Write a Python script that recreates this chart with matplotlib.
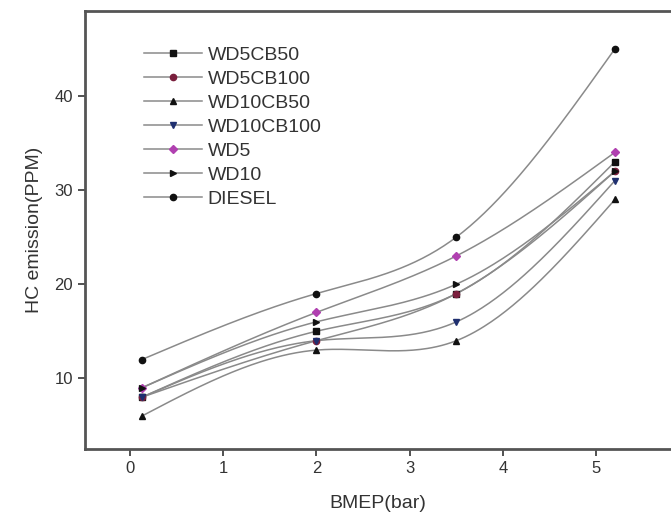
import numpy as np
import matplotlib
matplotlib.use("Agg")
import matplotlib.pyplot as plt

plt.rcParams['font.family'] = ['Liberation Sans', 'DejaVu Sans']

# BMEP load points (bar)
bmep = [0.13, 2.0, 3.5, 5.2]

# HC emission (PPM) per fuel blend
series_names = ['WD5CB50', 'WD5CB100', 'WD10CB50', 'WD10CB100', 'WD5', 'WD10', 'DIESEL']
wd5cb50 = [8, 15, 19, 33]
wd5cb100 = [8, 14, 19, 32]
wd10cb50 = [6, 13, 14, 29]
wd10cb100 = [8, 14, 16, 31]
wd5 = [9, 17, 23, 34]
wd10 = [9, 16, 20, 32]
diesel = [12, 19, 25, 45]
series_values = [wd5cb50, wd5cb100, wd10cb50, wd10cb100, wd5, wd10, diesel]

markers = ['s', 'o', '^', 'v', 'D', '>', 'o']
mcolors = ['#111111', '#7a1f3d', '#111111', '#1f2f6f', '#b040b0', '#111111', '#111111']


def natural_spline(x, y, n=200):
    # plain natural cubic spline, like the "spline" connector in Origin
    x = np.asarray(x, float)
    y = np.asarray(y, float)
    k = len(x)
    h = np.diff(x)
    A = np.zeros((k, k))
    b = np.zeros(k)
    A[0, 0] = A[-1, -1] = 1
    for i in range(1, k - 1):
        A[i, i - 1] = h[i - 1]
        A[i, i] = 2 * (h[i - 1] + h[i])
        A[i, i + 1] = h[i]
        b[i] = 6 * ((y[i + 1] - y[i]) / h[i] - (y[i] - y[i - 1]) / h[i - 1])
    M = np.linalg.solve(A, b)
    xs = np.linspace(x[0], x[-1], n)
    idx = np.clip(np.searchsorted(x, xs) - 1, 0, k - 2)
    x0, x1 = x[idx], x[idx + 1]
    hh = x1 - x0
    ys = (M[idx] * (x1 - xs) ** 3 / (6 * hh) + M[idx + 1] * (xs - x0) ** 3 / (6 * hh)
          + (y[idx] / hh - M[idx] * hh / 6) * (x1 - xs)
          + (y[idx + 1] / hh - M[idx + 1] * hh / 6) * (xs - x0))
    return xs, ys


fig = plt.figure(figsize=(6.71, 5.25), dpi=100)
ax = fig.add_axes([85 / 671, 76 / 525, 586 / 671, 438 / 525])

for name, vals, m, c in zip(series_names, series_values, markers, mcolors):
    xs, ys = natural_spline(bmep, vals)
    ax.plot(xs, ys, color='#8a8a8a', lw=1.1, zorder=2)
    ax.plot(bmep, vals, ls='none', marker=m, ms=4.5, color=c, zorder=3)
    # legend proxy
    ax.plot([], [], color='#8a8a8a', lw=1.1, marker=m, ms=4.5,
            mfc=c, mec=c, label=name)

ax.set_xlim(-0.48, 5.8)
ax.set_ylim(2.5, 49)
ax.set_xticks([0, 1, 2, 3, 4, 5])
ax.set_yticks([10, 20, 30, 40])

for s in ['left', 'bottom', 'top']:
    ax.spines[s].set_color('#555555')
    ax.spines[s].set_linewidth(2)
ax.spines['right'].set_visible(False)
ax.tick_params(direction='out', length=5, width=1.2, color='#333333',
               labelsize=12, labelcolor='#333333')

ax.set_xlabel('BMEP(bar)', fontsize=14, color='#333333', labelpad=14)
ax.set_ylabel('HC emission(PPM)', fontsize=14, color='#333333', labelpad=8)

ax.legend(loc='upper left', bbox_to_anchor=(0.07, 0.96), frameon=False,
          fontsize=14, handlelength=3.0, labelspacing=0.33, handletextpad=0.3,
          labelcolor='#333333')

fig.savefig('out.png', dpi=100)
